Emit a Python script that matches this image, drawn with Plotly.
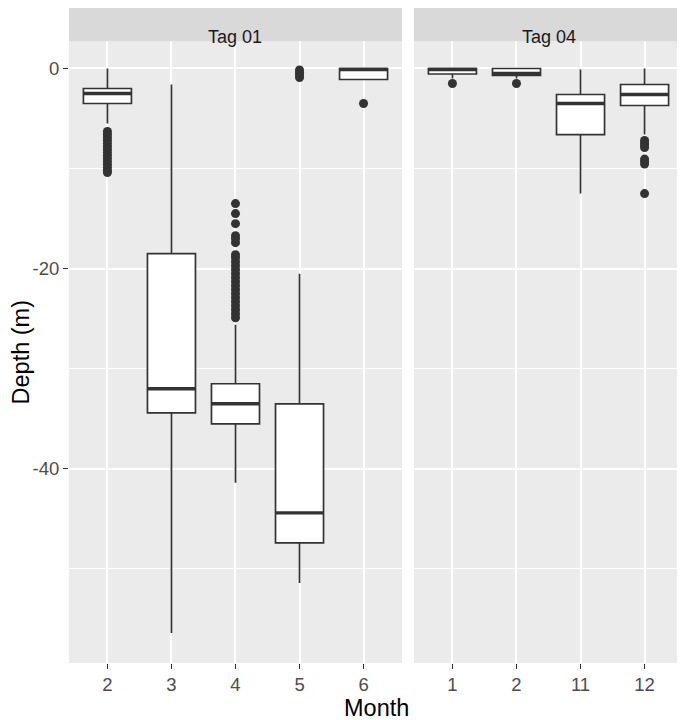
"""Depth by month boxplots, faceted by tag"""

import plotly.graph_objects as go

# Tag 01
tag01_months = ["2", "3", "4", "5", "6"]
tag01_q1 = [-3.5, -34.4, -35.5, -47.4, -1.1]
tag01_median = [-2.5, -32.0, -33.5, -44.4, -0.1]
tag01_q3 = [-2.0, -18.5, -31.5, -33.5, 0.0]
tag01_lower = [-5.5, -56.4, -41.4, -51.4, -1.1]
tag01_upper = [0.0, -1.6, -25.6, -20.5, 0.0]

tag01_out_m2 = [-6.3, -6.6, -6.9, -7.2, -7.5, -7.8, -8.1, -8.4, -8.7, -9.0, -9.3, -9.6, -9.9, -10.2, -10.4]
tag01_out_m4 = [-13.5, -14.5, -15.5, -16.7, -17.0, -17.4, -18.6, -18.9, -19.3, -19.7, -20.1, -20.5,
                -20.9, -21.3, -21.7, -22.1, -22.5, -22.9, -23.3, -23.7, -24.1, -24.5, -24.9]
tag01_out_m5 = [-0.15, -0.4, -0.65, -0.9]
tag01_out_m6 = [-3.5]

# Tag 04
tag04_months = ["1", "2", "11", "12"]
tag04_q1 = [-0.55, -0.7, -6.6, -3.7]
tag04_median = [-0.1, -0.5, -3.5, -2.6]
tag04_q3 = [0.0, 0.0, -2.6, -1.6]
tag04_lower = [-1.0, -1.0, -12.5, -6.6]
tag04_upper = [0.0, 0.0, -0.1, 0.0]

tag04_out_m1 = [-1.5]
tag04_out_m2 = [-1.5]
tag04_out_m12 = [-7.2, -7.45, -7.65, -7.9, -9.05, -9.3, -9.55, -12.5]

tag01_outliers = {"2": tag01_out_m2, "4": tag01_out_m4, "5": tag01_out_m5, "6": tag01_out_m6}
tag04_outliers = {"1": tag04_out_m1, "2": tag04_out_m2, "12": tag04_out_m12}

LINE = "#333333"
FONT = "Liberation Sans, Arial, sans-serif"


def add_panel(fig, xref, months, q1, median, q3, lower, upper, outliers):
    fig.add_trace(go.Box(
        x=months, q1=q1, median=median, q3=q3, lowerfence=lower, upperfence=upper,
        xaxis=xref, yaxis="y", width=0.75, whiskerwidth=0, boxpoints=False,
        fillcolor="white", line=dict(color=LINE, width=1.7), hoverinfo="skip",
    ))
    # thicker median line
    fig.add_trace(go.Box(
        x=months, q1=median, median=median, q3=median, lowerfence=median, upperfence=median,
        xaxis=xref, yaxis="y", width=0.75, whiskerwidth=0, boxpoints=False,
        fillcolor="rgba(0,0,0,0)", line=dict(color=LINE, width=3.4), hoverinfo="skip",
    ))
    for m, vals in outliers.items():
        fig.add_trace(go.Scatter(
            x=[m] * len(vals), y=vals, mode="markers", xaxis=xref, yaxis="y",
            marker=dict(color=LINE, size=9), hoverinfo="skip",
        ))


fig = go.Figure()
add_panel(fig, "x", tag01_months, tag01_q1, tag01_median, tag01_q3, tag01_lower, tag01_upper, tag01_outliers)
add_panel(fig, "x2", tag04_months, tag04_q1, tag04_median, tag04_q3, tag04_lower, tag04_upper, tag04_outliers)

xcommon = dict(
    type="category", showgrid=True, gridcolor="white", gridwidth=2.1, zeroline=False,
    ticks="outside", ticklen=5, tickcolor=LINE, tickwidth=1.3,
    tickfont=dict(size=18.5, color="#4D4D4D", family=FONT), anchor="y",
)
# page body has an 8px margin, so the figure is 8px smaller than the window
PANEL_TOP = 0.9489

fig.update_layout(
    width=677, height=712,
    margin=dict(l=61, r=2, t=0, b=57),
    paper_bgcolor="white", plot_bgcolor="#EBEBEB",
    showlegend=False, boxmode="overlay",
    font=dict(family=FONT),
    xaxis=dict(domain=[0, 0.5423], range=[-0.6, 4.6], categoryorder="array",
               categoryarray=tag01_months, **xcommon),
    xaxis2=dict(domain=[0.5619, 1], range=[-0.6, 3.6], categoryorder="array",
                categoryarray=tag04_months, **xcommon),
    yaxis=dict(
        domain=[0, PANEL_TOP], range=[-59.4, 2.7], tickvals=[0, -20, -40], ticktext=["0", "-20", "-40"],
        showgrid=True, gridcolor="white", gridwidth=2.1, zeroline=False,
        ticks="outside", ticklen=5, tickcolor=LINE, tickwidth=1.3,
        tickfont=dict(size=18.5, color="#4D4D4D", family=FONT),
        minor=dict(tickvals=[-10, -30, -50], showgrid=True, gridcolor="white", gridwidth=1.1),
        title=dict(text="Depth (m)", font=dict(size=23.5, color="black", family=FONT), standoff=8),
    ),
)

# facet strips
for xref, label in [("x", "Tag 01"), ("x2", "Tag 04")]:
    fig.add_shape(type="rect", xref=f"{xref} domain", yref="paper", x0=0, x1=1, y0=PANEL_TOP, y1=1.0,
                  fillcolor="#D9D9D9", line=dict(width=0), layer="below")
    fig.add_annotation(text=label, xref=f"{xref} domain", yref="paper", x=0.5, y=(PANEL_TOP + 1) / 2,
                       showarrow=False, font=dict(size=18, color="#1A1A1A", family=FONT))

fig.add_annotation(text="Month", xref="paper", yref="paper", x=0.5, y=0, yshift=-45,
                   yanchor="middle", showarrow=False, font=dict(size=23.5, color="black", family=FONT))

fig.write_html("out.html")
